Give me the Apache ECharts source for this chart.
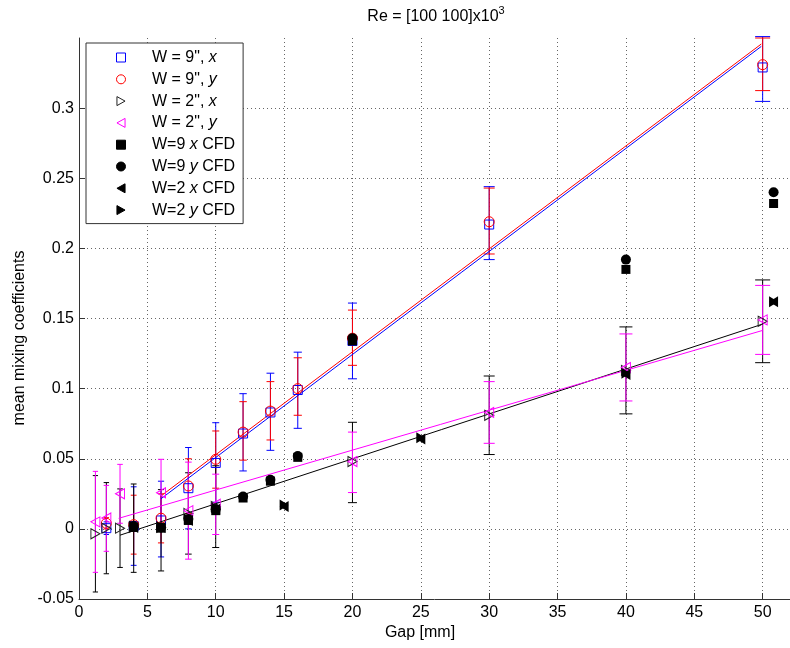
<!DOCTYPE html>
<html><head><meta charset="utf-8">
<script src="https://cdn.jsdelivr.net/npm/echarts@6.0.0/dist/echarts.min.js"></script>
<style>html,body{margin:0;padding:0;background:#fff}#c{width:790px;height:648px}</style>
</head><body><div id="c"></div>
<script>
// ---- data ----
var legendNames = ['W = 9", x', 'W = 9", y', 'W = 2", x', 'W = 2", y', 'W=9 x CFD', 'W=9 y CFD', 'W=2 x CFD', 'W=2 y CFD'];
var xTicks = [0, 5, 10, 15, 20, 25, 30, 35, 40, 45, 50];
var yTicks = [-0.05, 0, 0.05, 0.1, 0.15, 0.2, 0.25, 0.3];

var gap9 = [2, 4, 6, 8, 10, 12, 14, 16, 20, 30, 50];
var w9x = [0.0005, 0.002, 0.006, 0.029, 0.047, 0.068, 0.083, 0.099, 0.134, 0.217, 0.329];
var w9xLo = [-0.004, -0.026, -0.02, 0.0, 0.019, 0.0413, 0.056, 0.0717, 0.107, 0.192, 0.3048];
var w9xHi = [0.005, 0.03, 0.034, 0.058, 0.0757, 0.0964, 0.111, 0.126, 0.161, 0.244, 0.351];
var w9y = [0.004, 0.003, 0.0076, 0.0306, 0.0496, 0.069, 0.084, 0.1, 0.136, 0.219, 0.331];
var w9yLo = [0.0, -0.018, -0.01, 0.011, 0.029, 0.049, 0.0634, 0.081, 0.1166, 0.196, 0.3125];
var w9yHi = [0.008, 0.024, 0.025, 0.05, 0.0698, 0.0907, 0.105, 0.122, 0.156, 0.243, 0.350];

var gap2x = [1.2, 2, 3, 4, 6, 8, 10, 20, 30, 40, 50];
var w2x = [-0.0035, 0.0005, 0.0005, 0.001, 0.001, 0.011, 0.016, 0.048, 0.081, 0.113, 0.148];
var w2xLo = [-0.045, -0.032, -0.0275, -0.031, -0.030, -0.018, -0.0133, 0.0187, 0.053, 0.082, 0.1185];
var w2xHi = [0.038, 0.033, 0.0285, 0.032, 0.028, 0.040, 0.045, 0.076, 0.109, 0.144, 0.1775];

var gap2y = [1.2, 2, 3, 6, 8, 10, 20, 30, 40, 50];
var w2y = [0.005, 0.0078, 0.025, 0.0257, 0.013, 0.0176, 0.048, 0.083, 0.115, 0.149];
var w2yLo = [-0.031, -0.016, 0.004, 0.0018, -0.0216, -0.004, 0.0259, 0.061, 0.0912, 0.1244];
var w2yHi = [0.041, 0.031, 0.046, 0.0496, 0.0476, 0.039, 0.069, 0.105, 0.139, 0.1736];

var gapC9 = [4, 6, 8, 10, 12, 14, 16, 20, 40, 50.8];
var cfd9x = [0.001, 0.0005, 0.006, 0.013, 0.022, 0.034, 0.051, 0.134, 0.185, 0.232];
var cfd9y = [0.002, 0.001, 0.007, 0.014, 0.023, 0.035, 0.052, 0.136, 0.192, 0.240];
var gapC2 = [4, 6, 8, 10, 15, 25, 40, 50.8];
var cfd2x = [0.001, 0.001, 0.006, 0.014, 0.016, 0.064, 0.110, 0.162];
var cfd2y = [0.002, 0.0015, 0.007, 0.015, 0.017, 0.065, 0.111, 0.162];

var fitGap9 = [6.0, 49.9];
var fit9x = [0.0215, 0.344];
var fit9y = [0.0235, 0.3457];
var fitGap2x = [3.0, 50];
var fit2x = [-0.0045, 0.146];
var fitGap2y = [2.9, 50];
var fit2y = [0.0075, 0.1415];

// ---- chart ----
var FONT = '"Liberation Sans", Arial, Helvetica, sans-serif';
var BLUE = '#0000ff', RED = '#ff0000', MAG = '#ff00ff', BLK = '#000000';
var SQ = 'path://M0,0L10,0L10,10L0,10Z';
var TRI_R = 'path://M0,0L9,5L0,10Z';
var TRI_L = 'path://M9,0L0,5L9,10Z';

function pairs(xs, ys) { return xs.map(function (x, i) { return [x, ys[i]]; }); }

function errSeries(xs, lo, hi, color) {
  return {
    type: 'custom', silent: true, z: 2,
    data: xs.map(function (x, i) { return [x, lo[i], hi[i]]; }),
    encode: { x: 0, y: [1, 2] },
    renderItem: function (params, api) {
      var x = api.value(0);
      var p1 = api.coord([x, api.value(1)]);
      var p2 = api.coord([x, api.value(2)]);
      var hw = 2.5 + 0.1 * x;
      var st = { stroke: color, lineWidth: 1, fill: null };
      return { type: 'group', children: [
        { type: 'line', shape: { x1: p1[0], y1: p1[1], x2: p2[0], y2: p2[1] }, style: st },
        { type: 'line', shape: { x1: p1[0] - hw, y1: p1[1], x2: p1[0] + hw, y2: p1[1] }, style: st },
        { type: 'line', shape: { x1: p2[0] - hw, y1: p2[1], x2: p2[0] + hw, y2: p2[1] }, style: st }
      ] };
    }
  };
}
function fitSeries(xs, ys, color) {
  return { type: 'line', silent: true, z: 3, data: pairs(xs, ys), showSymbol: false, symbol: 'none',
    lineStyle: { color: color, width: 1 }, itemStyle: { color: color } };
}
function openSeries(name, xs, ys, symbol, size, color) {
  return { type: 'scatter', name: name, z: 4, data: pairs(xs, ys), symbol: symbol, symbolSize: size,
    itemStyle: { color: 'rgba(255,255,255,0)', borderColor: color, borderWidth: 1, opacity: 1 } };
}
function filledSeries(name, xs, ys, symbol, size) {
  return { type: 'scatter', name: name, z: 5, data: pairs(xs, ys), symbol: symbol, symbolSize: size,
    itemStyle: { color: BLK, borderColor: BLK, borderWidth: 0, opacity: 1 } };
}

var chart = echarts.init(document.getElementById('c'), null, { renderer: 'canvas' });
chart.setOption({
  animation: false,
  backgroundColor: '#ffffff',
  textStyle: { fontFamily: FONT },
  grid: { left: 79, top: 38, right: -4, bottom: 49, containLabel: false },
  xAxis: {
    type: 'value', min: 0, max: 52, interval: 5,
    axisLine: { show: true, onZero: false, lineStyle: { color: '#333', width: 1 } },
    axisTick: { show: true, inside: true, length: 6, lineStyle: { color: '#333' } },
    axisLabel: { fontSize: 16, color: '#000', fontFamily: FONT, margin: 6, showMaxLabel: false,
      formatter: function (v) { return xTicks.indexOf(v) >= 0 ? String(v) : ''; } },
    splitLine: { show: true, showMaxLine: false, lineStyle: { type: [1, 3], color: '#666', width: 1 } }
  },
  yAxis: {
    type: 'value', min: -0.05, max: 0.35, interval: 0.05,
    axisLine: { show: true, onZero: false, lineStyle: { color: '#333', width: 1 } },
    axisTick: { show: true, inside: true, length: 6, lineStyle: { color: '#333' } },
    axisLabel: { fontSize: 16, color: '#000', fontFamily: FONT, margin: 5, showMaxLabel: false,
      formatter: function (v) {
        for (var i = 0; i < yTicks.length; i++) { if (Math.abs(yTicks[i] - v) < 1e-9) return String(yTicks[i]); }
        return '';
      } },
    splitLine: { show: true, showMaxLine: false, lineStyle: { type: [1, 3], color: '#666', width: 1 } }
  },
  legend: {
    orient: 'vertical', left: 86, top: 43,
    itemWidth: 52, itemHeight: 9, itemGap: 4.8,
    padding: [6, 8, 5, 30],
    borderColor: '#333', borderWidth: 1, backgroundColor: '#ffffff',
    symbolKeepAspect: true,
    itemStyle: { borderWidth: 1 },
    data: legendNames,
    textStyle: { fontSize: 16, color: '#000', fontFamily: FONT, lineHeight: 17,
      rich: { i: { fontStyle: 'italic', fontSize: 16, fontFamily: FONT, color: '#000', lineHeight: 17 } } },
    formatter: function (n) { return n.replace(/(^|[ ,])([xy])(?=$| )/, '$1{i|$2}'); }
  },
  graphic: [
    { type: 'text', x: 436, y: 15, z: 10,
      style: { text: '{a|Re = [100 100]x10}{s|3}', align: 'center', verticalAlign: 'middle',
        textAlign: 'center', textVerticalAlign: 'middle',
        rich: { a: { fontSize: 16, fontFamily: FONT, fill: '#000', color: '#000', lineHeight: 20, verticalAlign: 'bottom' },
                s: { fontSize: 11, fontFamily: FONT, fill: '#000', color: '#000', lineHeight: 12, verticalAlign: 'top' } } } },
    { type: 'text', x: 420, y: 633, z: 10,
      style: { text: 'Gap [mm]', font: '16px ' + FONT, fill: '#000', align: 'center', verticalAlign: 'middle',
        textAlign: 'center', textVerticalAlign: 'middle' } },
    { type: 'text', x: 20, y: 338, rotation: Math.PI / 2, z: 10,
      style: { text: 'mean mixing coefficients', font: '16px ' + FONT, fill: '#000', align: 'center', verticalAlign: 'middle',
        textAlign: 'center', textVerticalAlign: 'middle' } }
  ],
  series: [
    errSeries(gap9, w9xLo, w9xHi, BLUE),
    errSeries(gap9, w9yLo, w9yHi, RED),
    errSeries(gap2x, w2xLo, w2xHi, BLK),
    errSeries(gap2y, w2yLo, w2yHi, MAG),
    fitSeries(fitGap9, fit9x, BLUE),
    fitSeries(fitGap9, fit9y, RED),
    fitSeries(fitGap2x, fit2x, BLK),
    fitSeries(fitGap2y, fit2y, MAG),
    openSeries(legendNames[0], gap9, w9x, SQ, 9, BLUE),
    openSeries(legendNames[1], gap9, w9y, 'circle', 10, RED),
    openSeries(legendNames[2], gap2x, w2x, TRI_R, [9, 10], '#222'),
    openSeries(legendNames[3], gap2y, w2y, TRI_L, [9, 10], MAG),
    filledSeries(legendNames[4], gapC9, cfd9x, SQ, 9),
    filledSeries(legendNames[5], gapC9, cfd9y, 'circle', 10),
    filledSeries(legendNames[6], gapC2, cfd2x, TRI_L, [9, 11]),
    filledSeries(legendNames[7], gapC2, cfd2y, TRI_R, [9, 11])
  ]
});
</script></body></html>
